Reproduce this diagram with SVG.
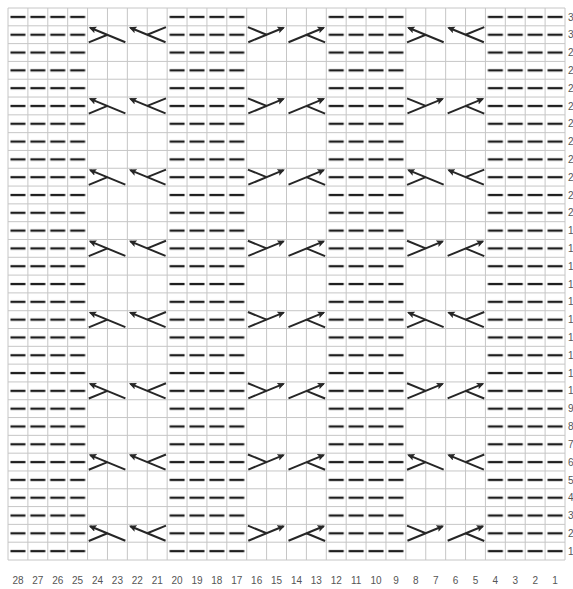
<svg xmlns="http://www.w3.org/2000/svg" xmlns:xlink="http://www.w3.org/1999/xlink" width="573" height="589" viewBox="0 0 573 589">
<style>
.grid{fill:none;stroke:#c6c6c6;stroke-width:1}
.cab{fill:none;stroke:#262626;stroke-width:2;stroke-linecap:butt}
.arr{marker-end:url(#ah)}
.lbl{font-family:"Liberation Sans",Arial,sans-serif;font-size:10px;fill:#555}
.cn{text-anchor:middle}
</style>
<defs>
<marker id="ah" markerUnits="userSpaceOnUse" markerWidth="9" markerHeight="8" refX="6" refY="3.5" orient="auto">
<path d="M0,0 L7.5,3.5 L0,7 L1.5,3.5 z" fill="#262626"/>
</marker>
<pattern id="purl" patternUnits="userSpaceOnUse" x="8" y="8" width="19.892857" height="17.806452">
<rect x="2.45" y="7.8" width="15" height="2.3" fill="#1e1e1e"/>
</pattern>
<g id="lcA"><path class="cab arr" d="M37.8,16.4 L2.6,1.9"/><path class="cab" d="M1.2,16.6 L19.9,8.9"/></g>
<g id="lcB"><path class="cab arr" d="M38.2,16.4 L3,1.9"/><path class="cab" d="M38.6,1.3 L19.9,8.9"/></g>
<g id="rcA"><path class="cab arr" d="M1.6,16.4 L36.8,1.9"/><path class="cab" d="M1.2,1.3 L19.9,8.9"/></g>
<g id="rcB"><path class="cab arr" d="M2,16.4 L37.2,1.9"/><path class="cab" d="M38.6,16.6 L19.9,8.9"/></g>
<g id="rowL">
<use href="#lcA" x="87.571"/><use href="#lcB" x="127.357"/>
<use href="#rcA" x="246.714"/><use href="#rcB" x="286.5"/>
<use href="#lcA" x="405.857"/><use href="#lcB" x="445.643"/>
</g>
<g id="rowR">
<use href="#lcA" x="87.571"/><use href="#lcB" x="127.357"/>
<use href="#rcA" x="246.714"/><use href="#rcB" x="286.5"/>
<use href="#rcA" x="405.857"/><use href="#rcB" x="445.643"/>
</g>
</defs>
<rect width="573" height="589" fill="#fff"/>
<g id="purl-stitches">
<rect x="8" y="8" width="79.571" height="552" fill="url(#purl)"/>
<rect x="167.143" y="8" width="79.571" height="552" fill="url(#purl)"/>
<rect x="326.286" y="8" width="79.571" height="552" fill="url(#purl)"/>
<rect x="485.429" y="8" width="79.571" height="552" fill="url(#purl)"/>
</g>
<g id="grid">
<path class="grid" d="M8,8V560M27.893,8V560M47.786,8V560M67.679,8V560M87.571,8V560M107.464,8V560M127.357,8V560M147.25,8V560M167.143,8V560M187.036,8V560M206.929,8V560M226.821,8V560M246.714,8V560M266.607,8V560M286.5,8V560M306.393,8V560M326.286,8V560M346.179,8V560M366.071,8V560M385.964,8V560M405.857,8V560M425.75,8V560M445.643,8V560M465.536,8V560M485.429,8V560M505.321,8V560M525.214,8V560M545.107,8V560M565,8V560"/>
<path class="grid" d="M8,8H565M8,25.806H565M8,43.613H565M8,61.419H565M8,79.226H565M8,97.032H565M8,114.839H565M8,132.645H565M8,150.452H565M8,168.258H565M8,186.065H565M8,203.871H565M8,221.677H565M8,239.484H565M8,257.29H565M8,275.097H565M8,292.903H565M8,310.71H565M8,328.516H565M8,346.323H565M8,364.129H565M8,381.935H565M8,399.742H565M8,417.548H565M8,435.355H565M8,453.161H565M8,470.968H565M8,488.774H565M8,506.581H565M8,524.387H565M8,542.194H565M8,560H565"/>
</g>
<g id="cables">
<use href="#rowL" y="25.806"/>
<use href="#rowR" y="97.032"/>
<use href="#rowL" y="168.258"/>
<use href="#rowR" y="239.484"/>
<use href="#rowL" y="310.71"/>
<use href="#rowR" y="381.935"/>
<use href="#rowL" y="453.161"/>
<use href="#rowR" y="524.387"/>
</g>
<g id="column-numbers" class="lbl cn">
<text x="17.95" y="584">28</text><text x="37.84" y="584">27</text><text x="57.73" y="584">26</text><text x="77.62" y="584">25</text>
<text x="97.52" y="584">24</text><text x="117.41" y="584">23</text><text x="137.3" y="584">22</text><text x="157.2" y="584">21</text>
<text x="177.09" y="584">20</text><text x="196.98" y="584">19</text><text x="216.88" y="584">18</text><text x="236.77" y="584">17</text>
<text x="256.66" y="584">16</text><text x="276.55" y="584">15</text><text x="296.45" y="584">14</text><text x="316.34" y="584">13</text>
<text x="336.23" y="584">12</text><text x="356.13" y="584">11</text><text x="376.02" y="584">10</text><text x="395.91" y="584">9</text>
<text x="415.8" y="584">8</text><text x="435.7" y="584">7</text><text x="455.59" y="584">6</text><text x="475.48" y="584">5</text>
<text x="495.38" y="584">4</text><text x="515.27" y="584">3</text><text x="535.16" y="584">2</text><text x="555.05" y="584">1</text>
</g>
<g id="row-numbers" class="lbl">
<text x="568" y="20.5">31</text><text x="568" y="38.3">30</text><text x="568" y="56.1">29</text><text x="568" y="73.9">28</text>
<text x="568" y="91.7">27</text><text x="568" y="109.5">26</text><text x="568" y="127.3">25</text><text x="568" y="145.1">24</text>
<text x="568" y="162.9">23</text><text x="568" y="180.7">22</text><text x="568" y="198.5">21</text><text x="568" y="216.3">20</text>
<text x="568" y="234.2">19</text><text x="568" y="252">18</text><text x="568" y="269.8">17</text><text x="568" y="287.6">16</text>
<text x="568" y="305.4">15</text><text x="568" y="323.2">14</text><text x="568" y="341">13</text><text x="568" y="358.8">12</text>
<text x="568" y="376.6">11</text><text x="568" y="394.4">10</text><text x="568" y="412.2">9</text><text x="568" y="430">8</text>
<text x="568" y="447.8">7</text><text x="568" y="465.6">6</text><text x="568" y="483.5">5</text><text x="568" y="501.3">4</text>
<text x="568" y="519.1">3</text><text x="568" y="536.9">2</text><text x="568" y="554.7">1</text>
</g>
</svg>
